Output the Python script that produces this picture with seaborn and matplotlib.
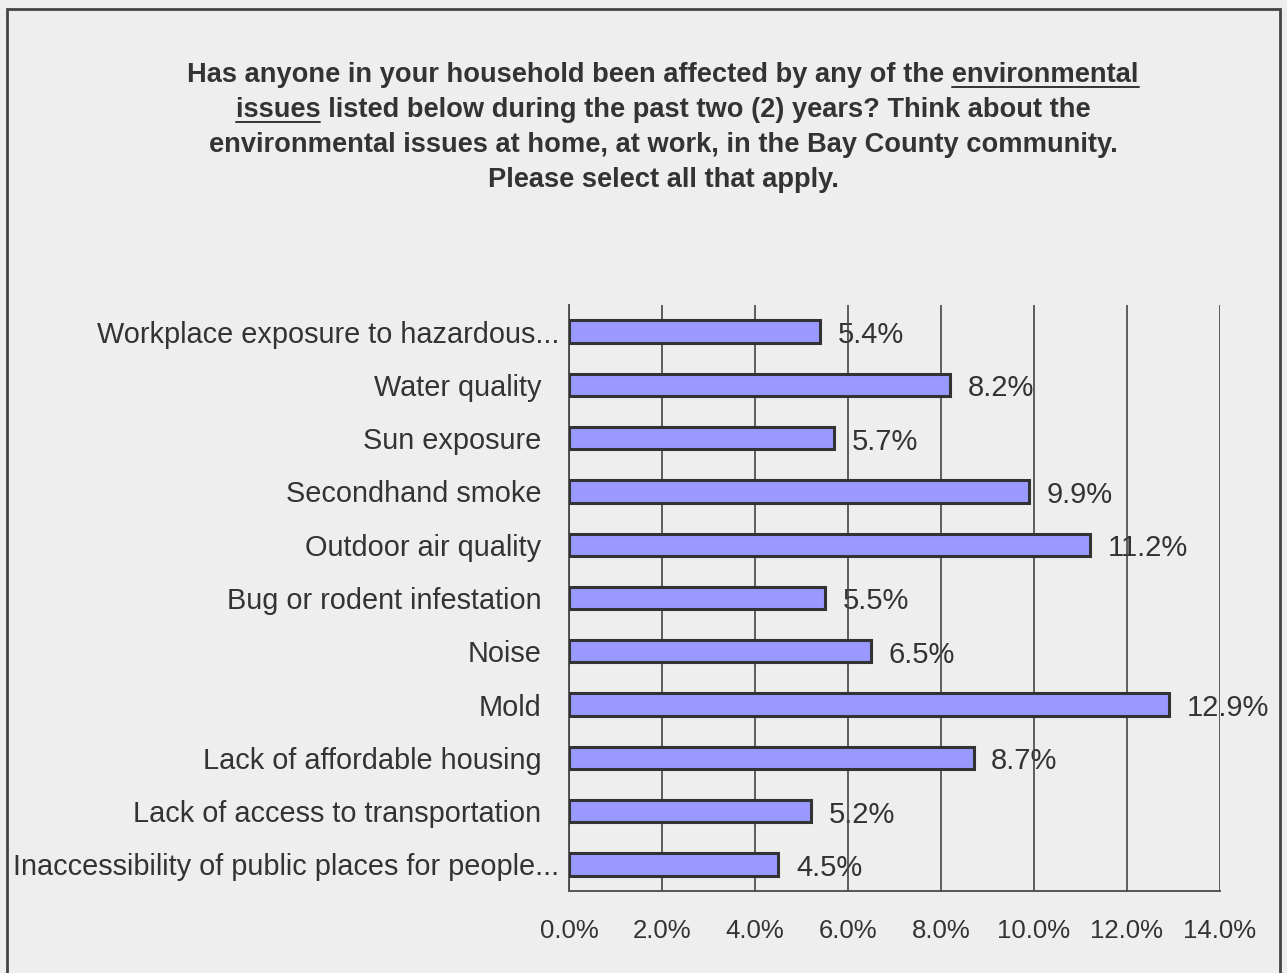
import matplotlib
matplotlib.use("Agg")
import matplotlib.pyplot as plt
import matplotlib.transforms as mtransforms
import seaborn as sns
import pandas as pd
from matplotlib.patches import Rectangle
from matplotlib.lines import Line2D

categories = [
    "Workplace exposure to hazardous...",
    "Water quality",
    "Sun exposure",
    "Secondhand smoke",
    "Outdoor air quality",
    "Bug or rodent infestation",
    "Noise",
    "Mold",
    "Lack of affordable housing",
    "Lack of access to transportation",
    "Inaccessibility of public places for people...",
]
values = [5.4, 8.2, 5.7, 9.9, 11.2, 5.5, 6.5, 12.9, 8.7, 5.2, 4.5]
xticks = [0, 2, 4, 6, 8, 10, 12, 14]

title_lines = [
    "Has anyone in your household been affected by any of the environmental",
    "issues listed below during the past two (2) years? Think about the",
    "environmental issues at home, at work, in the Bay County community.",
    "Please select all that apply.",
]

df = pd.DataFrame({"issue": categories, "pct": values})

bg = "#eeeeee"
txt = "#333333"
sns.set_style("white")
plt.rcParams["font.family"] = ["Liberation Sans", "DejaVu Sans"]

fig = plt.figure(figsize=(12.87, 9.73), dpi=100, facecolor=bg)
ax = fig.add_axes([569 / 1287, 1 - 891 / 973, (1220 - 569) / 1287, (891 - 305) / 973])
ax.set_facecolor(bg)

sns.barplot(data=df, x="pct", y="issue", color="#9999ff", orient="h",
            edgecolor="#333333", linewidth=2.2, width=0.42, saturation=1, ax=ax, zorder=3)

ax.set_xlim(0, 14)
ax.set_ylim(len(categories) - 0.5, -0.5)
ax.set_xticks(xticks)
ax.set_xticklabels([f"{t:.1f}%" for t in xticks], fontsize=18.5, color=txt)
ax.set_yticks(range(len(categories)))
ax.set_yticklabels(categories, fontsize=20.8, color=txt)
ax.set_yticks([i - 0.5 for i in range(len(categories) + 1)], minor=True)
ax.tick_params(axis="y", which="major", length=0, pad=20)
ax.tick_params(axis="y", which="minor", length=8, width=1.2, color="#444444", direction="out")
ax.tick_params(axis="x", which="major", length=8, width=1.2, color="#444444", pad=12)
ax.set_xlabel("")
ax.set_ylabel("")

# truncated labels sit a bit further right in the original
for lab in ax.get_yticklabels():
    if lab.get_text().endswith("..."):
        lab.set_transform(lab.get_transform() + mtransforms.ScaledTranslation(0.18, 0, fig.dpi_scale_trans))

ax.grid(axis="x", color="#444444", linewidth=1.2, zorder=2)
ax.set_axisbelow(False)
for s in ["top", "right"]:
    ax.spines[s].set_visible(False)
for s in ["left", "bottom"]:
    ax.spines[s].set_color("#555555")
    ax.spines[s].set_linewidth(1.4)

for i, v in enumerate(values):
    ax.annotate(f"{v:.1f}%", (v, i), xytext=(12.7, -2.5), textcoords="offset points",
                va="center", ha="left", fontsize=21, color=txt, zorder=1)

# outer frame
fig.patches.append(Rectangle((7 / 1287, -0.05), (1280 - 7) / 1287, 1.05 - 9 / 973,
                             transform=fig.transFigure, fill=False,
                             edgecolor="#444444", linewidth=2))

# title with underline on "environmental issues"
cx = 663 / 1287
ys = [75, 110, 145, 180]
tkw = dict(ha="center", va="center", fontsize=19.6, fontweight="bold", color=txt,
           family=["Liberation Sans Narrow", "Liberation Sans"])
texts = [fig.text(cx, 1 - y / 973, line, **tkw) for line, y in zip(title_lines, ys)]
fig.canvas.draw()
r = fig.canvas.get_renderer()


def width_of(s):
    t = fig.text(0, 0, s, **tkw)
    w = t.get_window_extent(r).width
    t.remove()
    return w


W = fig.bbox.width
H = fig.bbox.height
for idx, prefix, word in [(0, "Has anyone in your household been affected by any of the ", "environmental"),
                          (1, "", "issues")]:
    bb = texts[idx].get_window_extent(r)
    x0 = bb.x0 + (width_of(prefix + "x") - width_of("x") if prefix else 0)
    x1 = x0 + width_of(word)
    yline = bb.y0 + 1
    fig.lines.append(Line2D([x0 / W, x1 / W], [yline / H, yline / H], transform=fig.transFigure,
                            color=txt, linewidth=1.4))

fig.savefig("out.png", dpi=100, facecolor=bg)
